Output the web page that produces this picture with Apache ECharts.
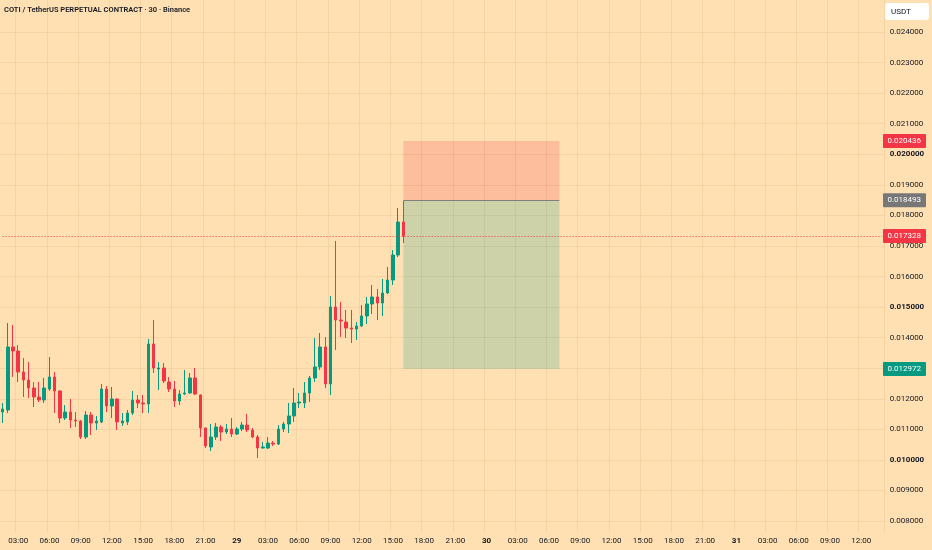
<!DOCTYPE html>
<html><head><meta charset="utf-8">
<script src="https://cdn.jsdelivr.net/npm/echarts@6/dist/echarts.min.js"></script>
<style>html,body{margin:0;padding:0;background:#FFE0B2}#c{width:932px;height:550px}</style>
</head><body><div id="c"></div>
<script>
// ---- data (30-min candles, COTI/USDT perp) ----
const opens  = [0.011566,0.011632,0.013693,0.013562,0.012875,0.012613,0.012352,0.012057,0.011959,0.012319,
0.012712,0.012254,0.011370,0.011566,0.011305,0.011272,0.010748,0.011468,0.011206,0.011239,
0.012319,0.011763,0.011992,0.011206,0.011239,0.011534,0.011959,0.011861,0.011828,0.013791,
0.012973,0.013006,0.012548,0.012319,0.011926,0.012155,0.012188,0.012679,0.012123,0.011043,
0.010421,0.010748,0.011076,0.010912,0.011010,0.010846,0.011010,0.011141,0.010977,0.010748,
0.010388,0.010388,0.010552,0.010519,0.011010,0.011174,0.011436,0.011861,0.011861,0.012188,
0.012679,0.013039,0.013693,0.012483,0.015002,0.014577,0.014511,0.014315,0.014282,0.014380,
0.014708,0.015100,0.015329,0.015133,0.015460,0.015885,0.016703,0.017783];
const closes = [0.011665,0.013693,0.013562,0.012875,0.012613,0.012352,0.012057,0.011959,0.012352,0.012712,
0.012254,0.011370,0.011566,0.011305,0.011272,0.010748,0.011468,0.011206,0.011272,0.012319,
0.011763,0.011992,0.011239,0.011272,0.011534,0.011959,0.011861,0.011828,0.013791,0.013006,
0.013006,0.012581,0.012319,0.011926,0.012155,0.012188,0.012679,0.012155,0.011043,0.010454,
0.010748,0.011076,0.010912,0.011010,0.010846,0.011010,0.011141,0.010977,0.010748,0.010388,
0.010421,0.010552,0.010519,0.011010,0.011174,0.011436,0.011861,0.011894,0.012188,0.012679,
0.013039,0.013693,0.012483,0.015002,0.014577,0.014544,0.014315,0.014282,0.014380,0.014708,
0.015100,0.015329,0.015133,0.015460,0.015885,0.016703,0.017783,0.017328];
const lows   = [0.011206,0.011534,0.012712,0.012548,0.012057,0.012024,0.011730,0.011894,0.011861,0.012254,
0.011534,0.011206,0.011305,0.011043,0.011076,0.010683,0.010683,0.010814,0.010977,0.011200,
0.011566,0.011370,0.010977,0.011108,0.011141,0.011468,0.011697,0.011534,0.011534,0.012842,
0.012286,0.012515,0.012221,0.011730,0.011795,0.012123,0.012170,0.012123,0.010748,0.010388,
0.010290,0.010650,0.010618,0.010846,0.010748,0.010814,0.010944,0.010912,0.010716,0.010061,
0.010370,0.010356,0.010454,0.010486,0.010912,0.010879,0.011239,0.011697,0.011697,0.011894,
0.012548,0.012941,0.012352,0.012123,0.013595,0.014020,0.013988,0.013824,0.013922,0.014348,
0.014446,0.014773,0.014577,0.014708,0.015427,0.015722,0.016638,0.017096];
const highs  = [0.011861,0.014478,0.014413,0.013759,0.013333,0.013202,0.012548,0.012548,0.012679,0.013366,
0.012875,0.012280,0.011795,0.011992,0.011566,0.011305,0.011599,0.011566,0.011436,0.012483,
0.012417,0.012384,0.012010,0.011534,0.011632,0.012254,0.012123,0.012123,0.013955,0.014577,
0.013202,0.013170,0.012712,0.012581,0.012286,0.012941,0.012842,0.013006,0.012140,0.011060,
0.011174,0.011206,0.011141,0.011174,0.011370,0.011076,0.011239,0.011501,0.011043,0.010814,
0.010585,0.010748,0.010618,0.011141,0.011239,0.011861,0.012352,0.012188,0.012548,0.012744,
0.013988,0.014151,0.014020,0.015362,0.017162,0.015166,0.014904,0.014904,0.014511,0.015067,
0.015329,0.015722,0.015591,0.015918,0.016311,0.016867,0.018241,0.018470];

// price levels of the short position tool and last price
const stopPrice = 0.020436;
const entryPrice = 0.018493;
const targetPrice = 0.012972;
const lastPrice = 0.017328;
const positionStartIdx = 77;
const positionEndIdx = 107;

// axis ticks
const priceMin = 0.008, priceMax = 0.024, priceStep = 0.001;
const hiddenPriceLabels = [0.013]; // covered by the target tag

// time slots: 28th 01:30 onward, 30-minute steps (170 slots shown)
const categories = [];
for (let i = 0; i < 170; i++) {
  const tot = 90 + 30 * i;
  const d = 28 + Math.floor(tot / 1440);
  const mm = tot % 1440;
  const h = Math.floor(mm / 60), m = mm % 60;
  categories.push(d + ' ' + String(h).padStart(2, '0') + ':' + String(m).padStart(2, '0'));
}
const candles = opens.map((o, i) => [o, closes[i], lows[i], highs[i]]);

// ---- chart ----
const UP = '#089981', DN = '#F23645';
const TXT = '#131722';
const GRIDC = 'rgba(170,120,50,0.12)';
const FONT = 'Roboto, "Noto Sans", sans-serif';

function parts(v) { const [d, t] = v.split(' '); const [h, m] = t.split(':').map(Number); return { d, t, h, m }; }
const isTick = (i, v) => { const p = parts(v); return p.m === 0 && p.h % 3 === 0; };
const xFmt = (v) => { const p = parts(v); return p.h === 0 ? '{d|' + p.d + '}' : p.t; };

const chart = echarts.init(document.getElementById('c'));
chart.setOption({
  backgroundColor: '#FFE0B2',
  animation: false,
  textStyle: { fontFamily: FONT },
  grid: [
    { left: -2.5, right: 47.3, top: 32, bottom: 29 },
    { left: -2.5, right: 47.3, top: 0, bottom: 18 }
  ],
  xAxis: [
    { type: 'category', gridIndex: 0, data: categories, boundaryGap: true, show: false },
    { type: 'category', gridIndex: 1, data: categories, boundaryGap: true,
      axisLine: { show: false }, axisTick: { show: false },
      axisLabel: { interval: isTick, formatter: xFmt, color: TXT, fontSize: 8, margin: 5, fontFamily: FONT,
        rich: { d: { fontWeight: 'bold', fontSize: 8, color: TXT, fontFamily: FONT } } },
      splitLine: { show: true, interval: isTick, lineStyle: { color: GRIDC, width: 1 } } }
  ],
  yAxis: [
    { type: 'value', gridIndex: 0, position: 'right', min: priceMin, max: priceMax, interval: priceStep,
      axisLine: { show: false }, axisTick: { show: false },
      axisLabel: { margin: 5, fontSize: 8, color: TXT, fontFamily: FONT, showMinLabel: true, showMaxLabel: true,
        formatter: v => {
          if (hiddenPriceLabels.some(h => Math.abs(h - v) < 1e-7)) return '';
          const s = v.toFixed(6); return Math.round(v * 1000) % 5 === 0 ? '{b|' + s + '}' : s; },
        rich: { b: { fontWeight: 'bold', fontSize: 8, color: TXT, fontFamily: FONT } } },
      splitLine: { lineStyle: { color: GRIDC, width: 1 } } },
    { type: 'value', gridIndex: 1, show: false, min: 0, max: 1 }
  ],
  series: [{
    type: 'candlestick', xAxisIndex: 0, yAxisIndex: 0, data: candles, barWidth: 3,
    itemStyle: { color: UP, color0: DN, borderColor: UP, borderColor0: DN, borderWidth: 1 },
    markArea: { silent: true, data: [
      [{ xAxis: categories[positionStartIdx], yAxis: entryPrice, itemStyle: { color: 'rgba(242,54,69,0.2)' } },
       { xAxis: categories[positionEndIdx], yAxis: stopPrice }],
      [{ xAxis: categories[positionStartIdx], yAxis: targetPrice, itemStyle: { color: 'rgba(8,153,129,0.2)' } },
       { xAxis: categories[positionEndIdx], yAxis: entryPrice }]
    ] },
    markLine: { silent: true, symbol: 'none', label: { show: false }, data: [
      [{ coord: [categories[positionStartIdx], entryPrice], lineStyle: { color: 'rgba(120,120,120,0.9)', width: 1, type: 'solid' } },
       { coord: [categories[positionEndIdx], entryPrice] }],
      [{ coord: [categories[0], lastPrice], lineStyle: { color: DN, width: 1, type: [1, 2] } },
       { coord: [categories[categories.length - 1], lastPrice] }]
    ] }
  }]
});

// price tags on the right scale, placed through the axis scale
const tagDefs = [[stopPrice, DN], [entryPrice, '#777777'], [lastPrice, DN], [targetPrice, UP]];
const gfx = [
  { type: 'text', left: 4, top: 6, z: 10, style: { text: 'COTI / TetherUS PERPETUAL CONTRACT · 30 · Binance', fontSize: 7.5, fontWeight: 600, fill: TXT, fontFamily: FONT } },
  { type: 'rect', z: 10, shape: { x: 885, y: 3, width: 44, height: 17, r: 3 }, style: { fill: '#ffffff' } },
  { type: 'text', z: 11, x: 891, y: 11.5, style: { text: 'USDT', fontSize: 8, fill: TXT, fontFamily: FONT, verticalAlign: 'middle' } }
];
tagDefs.forEach(([v, c]) => {
  const y = chart.convertToPixel({ yAxisIndex: 0 }, v);
  gfx.push({ type: 'rect', z: 10, shape: { x: 883, y: y - 7, width: 43, height: 14, r: 1 }, style: { fill: c } });
  gfx.push({ type: 'text', z: 11, x: 887.5, y: y, style: { text: v.toFixed(6), fontSize: 8, fill: '#ffffff', fontFamily: FONT, verticalAlign: 'middle' } });
});
chart.setOption({ graphic: gfx });
</script></body></html>
